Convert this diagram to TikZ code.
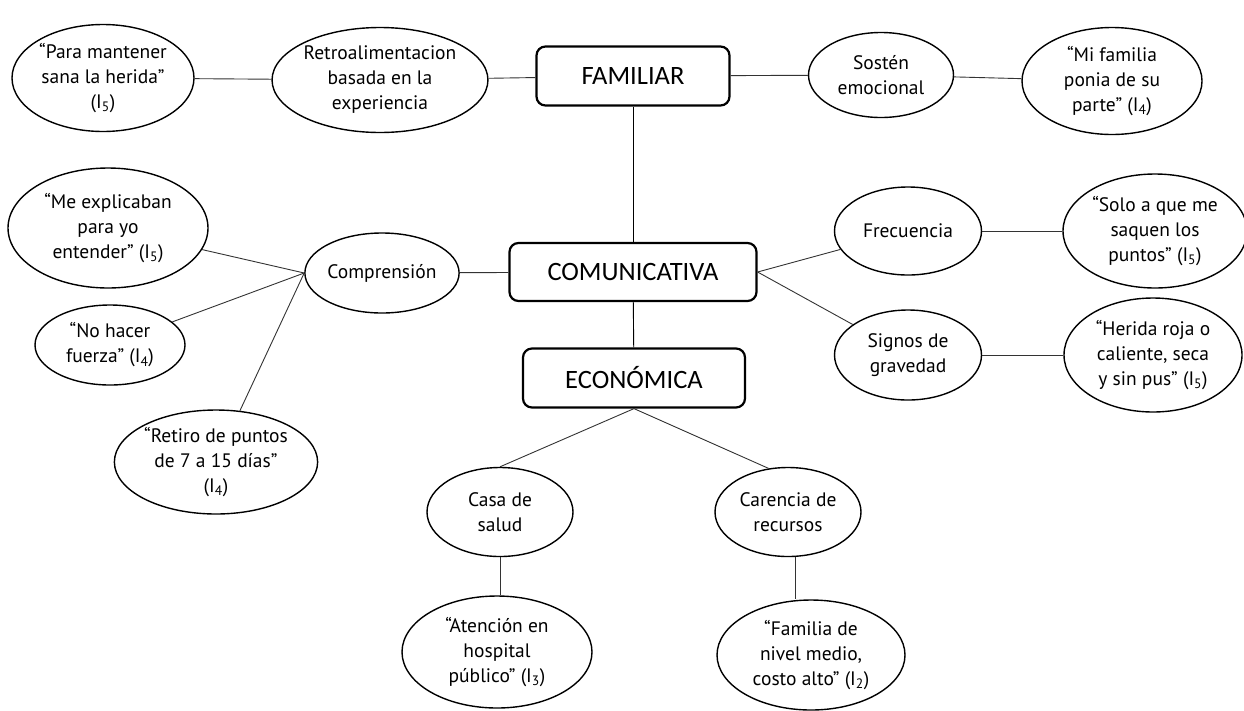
\documentclass[tikz,border=0pt]{standalone}
\usepackage{fontspec}
\setmainfont{PT Sans}
\newfontfamily\boxfont{Carlito}
\usepackage{tikz}
\usetikzlibrary{shapes.geometric}

\newcommand{\Isub}[1]{I\textsubscript{#1}}

\begin{document}
\begin{tikzpicture}[x=1pt,y=-1pt,
  idea/.style={draw,shape=ellipse,line width=1.4pt,inner sep=0pt,align=center,
    font=\fontsize{19.5}{25}\selectfont},
  cat/.style={draw,rectangle,rounded corners=9pt,line width=2.2pt,inner sep=0pt,
    font=\boxfont\fontsize{26.5}{30}\selectfont},
  link/.style={black!80,line width=0.9pt}]

\useasboundingbox (0,0) rectangle (1244,710);

\node (fam) at (633, 76) [cat,minimum width=193,minimum height=59]{FAMILIAR};
\node (com) at (633, 272) [cat,minimum width=247,minimum height=58]{COMUNICATIVA};
\node (eco) at (634, 378) [cat,minimum width=222,minimum height=59]{ECONÓMICA};

\node (retro) at (380, 80) [idea,minimum width=214,minimum height=105]{Retroalimentacion\\basada en la\\experiencia};
\node (q1) at (103, 78) [idea,minimum width=182,minimum height=107]{“Para mantener\\sana la herida”\\(\Isub{5})};
\node (sos) at (881, 75) [idea,minimum width=145,minimum height=85]{Sostén\\emocional};
\node (q2) at (1112, 81) [idea,minimum width=180,minimum height=107]{“Mi familia\\ponia de su\\parte” (\Isub{4})};

\node (comp) at (382, 273) [idea,minimum width=154,minimum height=80]{Comprensión};
\node (q3) at (108, 228) [idea,minimum width=200,minimum height=120]{“Me explicaban\\para yo\\entender” (\Isub{5})};
\node (q4) at (110, 345) [idea,minimum width=150,minimum height=80]{“No hacer\\fuerza” (\Isub{4})};
\node (q5) at (216, 462) [idea,minimum width=202,minimum height=104]{“Retiro de puntos\\de 7 a 15 días”\\(\Isub{4})};

\node (frec) at (908, 231) [idea,minimum width=147,minimum height=88]{Frecuencia};
\node (q6) at (1155, 231) [idea,minimum width=184,minimum height=114]{“Solo a que me\\saquen los\\puntos” (\Isub{5})};
\node (sig) at (908, 355) [idea,minimum width=147,minimum height=90]{Signos de\\gravedad};
\node (q7) at (1153, 355) [idea,minimum width=178,minimum height=114]{“Herida roja o\\caliente, seca\\y sin pus” (\Isub{5})};

\node (casa) at (500, 512) [idea,minimum width=146,minimum height=89]{Casa de\\salud};
\node (car) at (788, 512) [idea,minimum width=146,minimum height=89]{Carencia de\\recursos};
\node (q8) at (497, 652) [idea,minimum width=190,minimum height=112]{“Atención en\\hospital\\público” (\Isub{3})};
\node (q9) at (811, 655) [idea,minimum width=188,minimum height=110]{“Familia de\\nivel medio,\\costo alto” (\Isub{2})};

\draw [link] (q1) -- (retro);
\draw [link] (retro) -- (fam);
\draw [link] (fam) -- (sos);
\draw [link] (sos) -- (q2);

\draw [link,black] (fam) -- (com);
\draw [link,black] (com) -- (eco);

\draw [link] (comp) -- (com);
\draw [link] (comp.west) -- (q3);
\draw [link] (comp.west) -- (q4);
\draw [link] (comp.west) -- (q5);

\draw [link] (com.east) -- (frec);
\draw [link] (com.east) -- (sig);
\draw [link] (frec) -- (q6);
\draw [link] (sig) -- (q7);

\draw [link] (eco.south) -- (casa.north);
\draw [link] (eco.south) -- (car.114);
\draw [link] (casa.south) -- (casa.south |- q8.north);
\coordinate (c1) at ([xshift=7]car.south);
\draw [link] (c1) -- (c1 |- q9.north);

\end{tikzpicture}
\end{document}
